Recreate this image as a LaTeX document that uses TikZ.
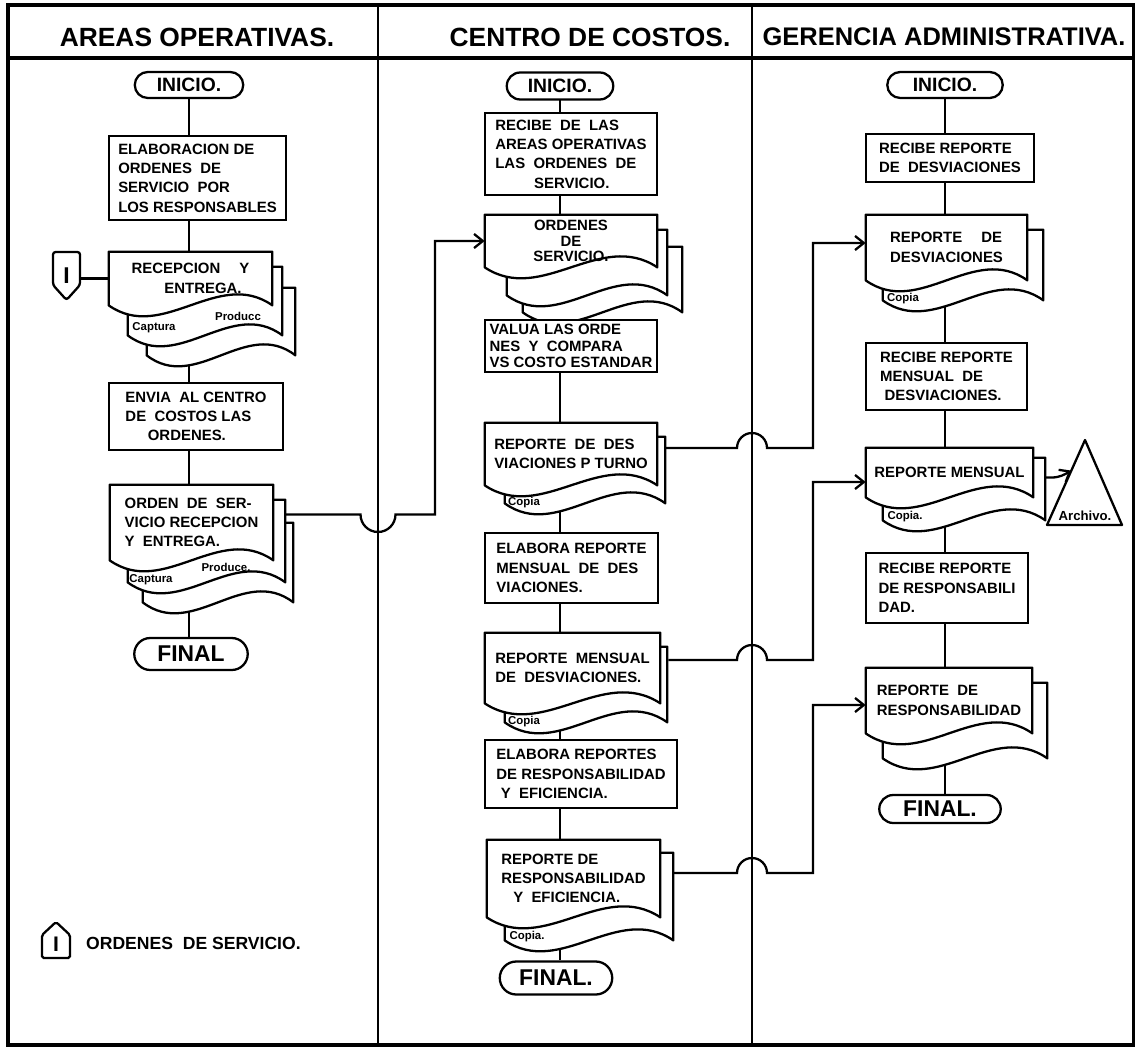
\documentclass[tikz,border=0pt]{standalone}
\usepackage{fontspec}
\setmainfont{Liberation Sans}
\usetikzlibrary{positioning,calc,shapes.misc,arrows.meta}

\pgfdeclarelayer{lineas}
\pgfdeclarelayer{hojas}
\pgfsetlayers{lineas,hojas,main}

% hoja de un documento: nodo, desplazamiento izq/arriba/der/abajo (px)
\newcommand{\hoja}[5]{%
  \path ($(#1.north west)+(#2,#3)$) coordinate (hNW)
        ($(#1.south east)+(#4,#5)$) coordinate (hSE);
  \filldraw[fill=white, line width=1.3pt, line join=round]
    (hNW) -- (hNW |- hSE)
    .. controls ($(hNW |- hSE)!0.33!(hSE)+(0,38)$) and ($(hNW |- hSE)!0.67!(hSE)+(0,-38)$) .. (hSE)
    -- (hSE |- hNW) -- cycle;
}

\begin{document}
\begin{tikzpicture}[
		x=0.02cm, y=-0.02cm,
		linea/.style={line width=1.3pt},
		flecha/.style={linea, -{Straight Barb[length=5pt, width=8pt]}},
		marco/.style={line width=1.8pt},
		titulo/.style={font=\bfseries\fontsize{15}{15}\selectfont},
		caja/.style={draw, fill=white, line width=1.3pt, inner sep=2pt, align=left, font=\bfseries\fontsize{8.5}{11}\selectfont},
		doc/.style={inner sep=2pt, align=left, font=\bfseries\fontsize{8.5}{11}\selectfont},
		extremo/.style={draw, fill=white, rounded rectangle, line width=1.3pt, inner sep=1pt, font=\bfseries\fontsize{11}{11}\selectfont},
		nota/.style={inner sep=0pt, font=\bfseries\fontsize{6.5}{7}\selectfont}
		]
		\useasboundingbox (0,0) rectangle (1135,1050);
		
		% ===== marco y carriles =====
		\draw[marco] (8,5) rectangle (1134,1045);
		\draw[marco] (8,58) -- (1134,58);
		\draw[linea] (378,5) -- (378,1045);
		\draw[linea] (752,5) -- (752,1045);
		\coordinate (xDivA) at (378,0);
		\coordinate (xDivB) at (752,0);
		\coordinate (xBusA) at (435,0);
		\coordinate (xBusB) at (813,0);
		
		\node[titulo] (tA) at (197,37) {AREAS OPERATIVAS.};
		\node[titulo] (tB) at (590,37) {CENTRO DE COSTOS.};
		\node[titulo, font=\bfseries\fontsize{14.5}{15}\selectfont] (tC) at (944,37) {GERENCIA ADMINISTRATIVA.};
		
		% ===== areas operativas =====
		\node[extremo, minimum width=2.24cm, minimum height=0.52cm] (ini1) at (189,85) {INICIO.};
		\node[caja, minimum width=3.54cm, minimum height=1.68cm] (c1) at (197.5,178)
		{ELABORACION DE\\ORDENES \ DE\\ SERVICIO \ POR\\LOS RESPONSABLES};
		\node[doc, minimum width=3.26cm, minimum height=1.06cm] (d1) at (190.5,278.5)
		{RECEPCION \quad Y\\\hspace*{2.2em}ENTREGA.};
		\node[caja, minimum width=3.48cm, minimum height=1.34cm] (c2) at (196,416.5)
		{ENVIA \ AL CENTRO\\DE \ COSTOS LAS\\\hspace*{1.5em}ORDENES.};
		\node[doc, minimum width=3.26cm, minimum height=1.5cm] (d2) at (191.5,522.5)
		{ORDEN \ DE \ SER-\\VICIO RECEPCION\\Y \ ENTREGA.};
		\node[extremo, minimum width=2.34cm, minimum height=0.64cm, font=\bfseries\fontsize{13}{13}\selectfont] (fin1) at (191,654) {FINAL};
		
		\node[font=\bfseries\fontsize{13}{13}\selectfont] (con1) at (66.5,276) {I};
		\draw[linea, rounded corners=1.5pt] ($(con1)+(-13.5,-24)$) -- ($(con1)+(13.5,-24)$) -- ($(con1)+(13.5,9)$)
		-- ($(con1)+(0,24)$) -- ($(con1)+(-13.5,9)$) -- cycle;
		
		\node[nota] (n1a) at (154,328) {Captura};
		\node[nota] (n1b) at (238,316) {Producc};
		\node[nota] (n2a) at (151,580) {Captura};
		\node[nota] (n2b) at (226,567) {Produce.};
		
		% leyenda
		\node[font=\bfseries\fontsize{12}{12}\selectfont] (leg) at (56,944) {I};
		\draw[linea, rounded corners=1pt] ($(leg)+(-14,14)$) -- ($(leg)+(-14,-9)$) -- ($(leg)+(0,-22)$)
		-- ($(leg)+(14,-9)$) -- ($(leg)+(14,14)$) -- cycle;
		\node[anchor=west, font=\bfseries\fontsize{10}{10}\selectfont] (legtxt) at (80,943) {ORDENES \ DE SERVICIO.};
		
		% ===== centro de costos =====
		\node[extremo, minimum width=2.2cm, minimum height=0.54cm] (ini2) at (560,86) {INICIO.};
		\node[caja, minimum width=3.44cm, minimum height=1.64cm] (c3) at (571,154)
		{RECIBE \ DE \ LAS\\AREAS OPERATIVAS\\LAS \ ORDENES \ DE\\\hspace*{2.6em}SERVICIO.};
		\node[doc, align=center, font=\bfseries\fontsize{8.5}{9}\selectfont, minimum width=3.44cm, minimum height=1.04cm] (d3) at (571,241)
		{ORDENES\\DE\\SERVICIO.};
		\node[caja, font=\bfseries\fontsize{8.5}{9.5}\selectfont, minimum width=3.44cm, minimum height=1.04cm] (c4) at (571,346)
		{VALUA LAS ORDE\\NES \ Y \ COMPARA\\VS COSTO ESTANDAR};
		\node[doc, minimum width=3.44cm, minimum height=1.24cm] (d4) at (571,454)
		{REPORTE \ DE \ DES\\VIACIONES P TURNO};
		\node[caja, minimum width=3.46cm, minimum height=1.4cm] (c5) at (571.5,568)
		{ELABORA REPORTE\\MENSUAL \ DE \ DES\\VIACIONES.};
		\node[doc, minimum width=3.5cm, minimum height=1.4cm] (d5) at (572.5,668)
		{REPORTE \ MENSUAL\\DE \ DESVIACIONES.};
		\node[caja, minimum width=3.84cm, minimum height=1.36cm] (c6) at (581,774)
		{ELABORA REPORTES\\DE RESPONSABILIDAD\\\hspace*{0.3em}Y \ EFICIENCIA.};
		\node[doc, minimum width=3.46cm, minimum height=1.54cm] (d6) at (573.5,878.5)
		{REPORTE DE\\RESPONSABILIDAD\\\hspace*{0.8em}Y \ EFICIENCIA.};
		\node[extremo, minimum width=2.32cm, minimum height=0.66cm, font=\bfseries\fontsize{13}{13}\selectfont] (fin2) at (556,978) {FINAL.};
		
		\node[nota] (n4) at (524,503) {Copia};
		\node[nota] (n5) at (524,722) {Copia};
		\node[nota] (n6) at (527,937) {Copia.};
		
		% ===== gerencia administrativa =====
		\node[extremo, minimum width=2.38cm, minimum height=0.52cm] (ini3) at (945,85) {INICIO.};
		\node[caja, minimum width=3.36cm, minimum height=0.96cm] (c7) at (950,158)
		{RECIBE REPORTE\\DE \ DESVIACIONES};
		\node[doc, minimum width=3.22cm, minimum height=1.3cm] (d7) at (946.5,247.5)
		{REPORTE \quad DE\\DESVIACIONES};
		\node[caja, minimum width=3.22cm, minimum height=1.34cm] (c8) at (946.5,376.5)
		{RECIBE REPORTE\\MENSUAL \ DE\\\hspace*{0.3em}DESVIACIONES.};
		\node[doc, minimum width=3.34cm, minimum height=0.98cm] (d8) at (949.5,472.5)
		{REPORTE MENSUAL};
		\node[caja, minimum width=3.24cm, minimum height=1.4cm] (c9) at (947,588)
		{RECIBE REPORTE\\DE RESPONSABILI\\DAD.};
		\node[doc, minimum width=3.32cm, minimum height=1.3cm] (d9) at (949,700.5)
		{REPORTE \ DE\\RESPONSABILIDAD};
		\node[extremo, minimum width=2.5cm, minimum height=0.56cm, font=\bfseries\fontsize{13}{13}\selectfont] (fin3) at (940,809) {FINAL.};
		
		\node[nota] (n7) at (903,299) {Copia};
		\node[nota] (n8) at (905,517) {Copia.};
		
		\node[inner sep=0pt, font=\bfseries\fontsize{7.5}{8}\selectfont] (arch) at (1085,516) {Archivo.};
		\coordinate (archA) at ($(arch)+(0,-76)$);
		\coordinate (archB) at ($(arch)+(-38,9)$);
		\coordinate (archC) at ($(arch)+(37,9)$);
		\draw[linea, line join=round] (archA) -- (archB) -- (archC) -- cycle;
		
		% ===== hojas de los documentos =====
		\begin{pgfonlayer}{hojas}
			\foreach \n/\a/\b/\c/\d in {d1/38/36/23/50, d1/19/15/10/30, d1/0/0/0/0,
				d2/33/38/20/42, d2/18/15/12/22, d2/0/0/0/0,
				d3/38/32/25/45, d3/22/15/10/28, d3/0/0/0/0,
				d4/20/14/8/18, d4/0/0/0/0, d5/20/14/7/19, d5/0/0/0/0,
				d6/18/13/13/23, d6/0/0/0/0, d7/17/15/16/20, d7/0/0/0/0,
				d8/17/10/12/23, d8/0/0/0/0, d9/17/15/15/25, d9/0/0/0/0}
			\hoja{\n}{\a}{\b}{\c}{\d};
		\end{pgfonlayer}
		
		% ===== conectores =====
		\begin{pgfonlayer}{lineas}
			\foreach \a/\b in {ini1/c1, c1/d1, d1/c2, c2/d2, d2/fin1}
			\draw[linea] (ini1 |- \a) -- (ini1 |- \b.north);
			\foreach \a/\b in {ini2/c3, c3/d3, d3/c4, c4/d4, d4/c5, c5/d5, d5/c6, c6/d6, d6/fin2}
			\draw[linea] (ini2 |- \a) -- (ini2 |- \b.north);
			\foreach \a/\b in {ini3/c7, c7/d7, d7/c8, c8/d8, d8/c9, c9/d9, d9/fin3}
			\draw[linea] (ini3 |- \a) -- (ini3 |- \b.north);
			
			\draw[linea] ($(con1.east |- d1.west)+(5,0)$) -- (d1.west);
			
			\draw[flecha] ($(d2.east)+(12,-8)$) coordinate (s1)
			-- ($(xDivA |- s1)+(-17.5,0)$) arc[start angle=180, end angle=360, radius=0.35cm]
			-- (xBusA |- s1) |- (d3.west);
			
			\foreach \de/\para/\dy/\ty in {d4/d7/-6/-4.5, d5/d8/-8/9.5, d6/d9/-5.5/4.5}
			\draw[flecha] ($(\de.east)+(8,\dy)$) coordinate (s)
			-- ($(xDivB |- s)+(-15,0)$) arc[start angle=180, end angle=0, radius=0.3cm]
			-- (xBusB |- s) |- ($(\para.west)+(0,\ty)$);
			
			\draw[flecha] ($(d8.east)+(12,5)$) -- ++(6,0) to[out=0, in=210] ($(archA)!0.36!(archB)$);
		\end{pgfonlayer}
		
	\end{tikzpicture}
\end{document}
